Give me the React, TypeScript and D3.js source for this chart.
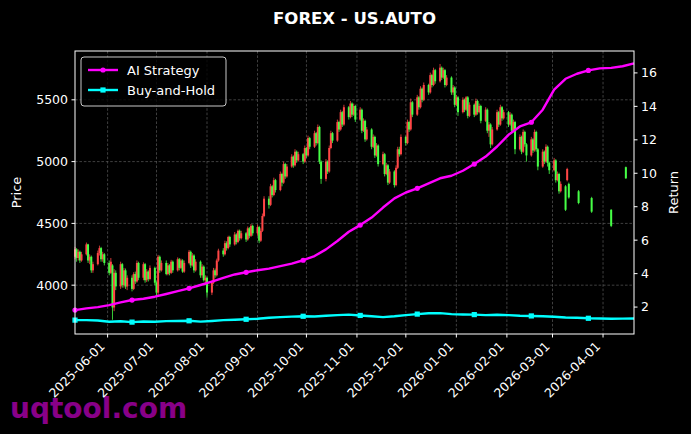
import React, { useEffect } from 'react';
import * as d3 from 'd3';

const W = 691;
const H = 434;
const PL = 75, PR = 634, PT = 51, PB = 334;

const titleText = 'FOREX - US.AUTO';
const watermark = 'uqtool.com';

// Daily candles (weekdays from firstTradingDay)
const firstTradingDay = '2025-05-12';
const opens = [
  4230,4290,4220,4270,4200, 4250,4330,4200,4230,4120, 4170,4260,4300,4210,4250, 4180,4100,4160,3820,4100,
  3990,4170,4000,4120,3990, 4060,3970,4090,4030,4180, 4060,4170,4040,4110,4050, 4140,4020,3940,4230,4120,
  4180,4090,4160,4100,4190, 4120,4210,4140,4200,4110, 4180,4270,4160,4240,4120, 4190,4080,4150,4040,4060,
  3940,4020,4120,4080,4200, 4280,4250,4340,4300,4390, 4330,4410,4350,4440,4380, 4420,4370,4460,4400,4480,
  4420,4470,4360,4440,4560, 4700,4650,4800,4730,4850, 4770,4900,4830,4980,4880, 4960,5040,4970,5080,5010,
  5060,5000,5110,5050,5190, 5120,5230,5150,5280,5000, 4860,5000,4920,5110,5230, 5170,5320,5260,5400,5300,
  5440,5360,5470,5380,5450, 5340,5420,5250,5330,5180, 5260,5120,5200,5050,5130, 4980,5060,4900,4970,4830,
  4920,4810,4950,5100,5060, 5200,5150,5320,5260,5480, 5380,5520,5440,5590,5500, 5620,5560,5700,5620,5740,
  5650,5760,5680,5740,5620, 5680,5560,5600,5460,5520, 5400,5500,5420,5520,5370, 5460,5380,5490,5400,5450,
  5330,5420,5250,5300,5140, 5260,5400,5300,5440,5350, 5400,5300,5380,5250,5320, 5100,5200,5080,5240,5140,
  5050,5180,5090,5240,5100, 4960,5080,5000,5120,4990, 4930,5010,4850,4900,4760,
];
const closes = [
  4290,4220,4270,4200,4250, 4330,4200,4230,4120,4170, 4260,4300,4210,4250,4180, 4100,4190,3820,4100,3990,
  4170,4000,4120,3990,4060, 3970,4090,4030,4180,4060, 4170,4040,4110,4050,4140, 4020,3940,4230,4120,4180,
  4090,4160,4100,4190,4120, 4210,4140,4200,4110,4180, 4270,4160,4240,4120,4190, 4080,4150,4040,4060,3940,
  4020,4120,4080,4200,4280, 4250,4340,4300,4390,4330, 4410,4350,4440,4380,4420, 4370,4460,4400,4480,4420,
  4470,4360,4440,4560,4700, 4650,4800,4730,4850,4770, 4900,4830,4980,4880,4960, 5040,4970,5080,5010,5060,
  5000,5110,5050,5190,5120, 5230,5150,5280,5000,4860, 5000,4920,5110,5230,5170, 5320,5260,5400,5300,5440,
  5360,5470,5380,5450,5340, 5420,5250,5330,5180,5260, 5120,5200,5050,5130,4980, 5060,4900,4970,4830,4920,
  4810,4950,5100,5060,5200, 5150,5320,5260,5480,5380, 5520,5440,5590,5500,5620, 5560,5700,5620,5740,5650,
  5760,5680,5740,5620,5680, 5560,5600,5460,5520,5400, 5500,5420,5520,5370,5460, 5380,5490,5400,5450,5330,
  5420,5250,5300,5140,5260, 5400,5300,5440,5350,5400, 5300,5380,5250,5320,5100, 5200,5080,5240,5140,5050,
  5180,5090,5240,5100,4960, 5080,5000,5120,4990,4930, 5010,4850,4900,4760,4820,
];
const highs = [
  4310,4300,4290,4280,4270, 4345,4335,4250,4240,4190, 4280,4320,4310,4270,4260, 4200,4220,4170,4130,4120,
  4190,4180,4140,4135,4080, 4080,4105,4110,4200,4190, 4185,4180,4130,4120,4160, 4150,4030,4245,4240,4200,
  4200,4180,4170,4205,4200, 4225,4220,4215,4210,4200, 4285,4280,4260,4250,4210, 4200,4170,4160,4080,4070,
  4040,4140,4135,4215,4295, 4300,4360,4355,4400,4400, 4430,4420,4450,4450,4440, 4430,4475,4470,4495,4490,
  4490,4480,4460,4580,4720, 4720,4820,4810,4870,4860, 4920,4910,5000,4990,4980, 5060,5050,5100,5090,5080,
  5070,5130,5120,5210,5200, 5250,5240,5300,5290,5010, 5020,5010,5130,5250,5240, 5340,5330,5420,5410,5460,
  5450,5490,5480,5470,5460, 5440,5430,5350,5340,5280, 5270,5220,5210,5150,5140, 5080,5070,4990,4980,4940,
  4930,4970,5120,5120,5220, 5210,5340,5330,5510,5490, 5540,5530,5610,5600,5640, 5630,5720,5710,5760,5750,
  5790,5770,5760,5750,5700, 5690,5620,5610,5540,5530, 5520,5510,5530,5530,5480, 5470,5510,5500,5470,5460,
  5440,5430,5320,5310,5280, 5420,5410,5460,5450,5420, 5410,5400,5390,5340,5330, 5220,5210,5260,5250,5150,
  5200,5190,5260,5250,5110, 5100,5090,5140,5130,5000, 5030,5020,4920,4910,4840,
];
const lows = [
  4210,4190,4200,4180,4190, 4240,4180,4170,4100,4100, 4160,4240,4190,4190,4160, 4080,4090,3720,3790,3960,
  3970,3980,3980,3970,3960, 3950,3960,4010,4020,4040, 4040,4020,4025,4030,4040, 4000,3900,3920,4100,4110,
  4080,4080,4080,4090,4100, 4110,4120,4130,4100,4100, 4170,4140,4150,4100,4110, 4060,4060,4030,4000,3900,
  3920,4010,4060,4070,4190, 4230,4240,4280,4290,4310, 4320,4330,4340,4360,4370, 4350,4360,4380,4390,4400,
  4400,4340,4350,4430,4550, 4620,4640,4710,4720,4750, 4760,4800,4820,4860,4870, 4950,4950,4960,4990,5000,
  4980,4990,5030,5040,5100, 5110,5130,5140,4980,4820, 4840,4900,4910,5100,5150, 5160,5240,5250,5280,5290,
  5340,5350,5360,5370,5320, 5330,5230,5240,5160,5170, 5100,5110,5030,5040,4960, 4970,4880,4890,4810,4820,
  4790,4800,4940,5040,5050, 5130,5140,5240,5250,5360, 5370,5420,5430,5480,5490, 5540,5550,5600,5610,5630,
  5640,5660,5670,5600,5610, 5540,5540,5440,5450,5370, 5390,5400,5410,5350,5360, 5360,5370,5380,5390,5310,
  5320,5230,5200,5110,5130, 5250,5280,5290,5330,5340, 5280,5290,5230,5240,5060, 5090,5060,5070,5120,5000,
  5040,5070,5080,5080,4930, 4950,4980,4990,4960,4900, 4920,4830,4840,4740,4750,
];

// Sparse candles at the end
const extraDates = ['2026-03-09','2026-03-10','2026-03-11','2026-03-17','2026-03-25','2026-04-06','2026-04-15'];
const extraOpens = [4800,4850,4820,4760,4705,4610,4955];
const extraCloses = [4610,4940,4710,4665,4595,4480,4865];
const extraHighs = [4810,4950,4830,4770,4715,4615,4960];
const extraLows = [4600,4840,4700,4655,4585,4470,4860];

// Weekly return curves (from lineStart, one value per week)
const lineStart = '2025-05-12';
const aiStrategy = [
  1.82,1.92,2.0,2.12,2.28,2.42,2.5,2.62,2.78,2.95,
  3.12,3.32,3.52,3.75,3.95,4.08,4.2,4.3,4.45,4.6,
  4.8,5.05,5.45,5.95,6.5,6.9,7.35,7.95,8.5,8.85,
  9.1,9.4,9.7,9.85,10.15,10.55,11.0,11.6,12.3,12.8,
  13.05,13.8,15.0,15.65,15.95,16.15,16.27,16.3,16.4,16.57,
];
const buyHold = [
  1.22,1.22,1.2,1.12,1.15,1.1,1.14,1.12,1.16,1.17,
  1.18,1.13,1.17,1.22,1.24,1.27,1.3,1.36,1.4,1.43,
  1.45,1.44,1.48,1.52,1.55,1.5,1.45,1.4,1.45,1.52,
  1.58,1.63,1.64,1.58,1.56,1.55,1.52,1.54,1.52,1.48,
  1.47,1.45,1.42,1.38,1.36,1.33,1.32,1.3,1.31,1.32,
];

const xStart = '2025-05-12';
const xEnd = '2026-04-20';
const xTicks = ['2025-06-01','2025-07-01','2025-08-01','2025-09-01','2025-10-01','2025-11-01','2025-12-01','2026-01-01','2026-02-01','2026-03-01','2026-04-01'];
const priceTicks = [4000, 4500, 5000, 5500];
const returnTicks = [2, 4, 6, 8, 10, 12, 14, 16];
const priceDomain = [3605, 5895];
const returnDomain = [0.39, 17.31];

const seriesNames = ['AI Strategy', 'Buy-and-Hold'];
const seriesColors = ['#ff00ff', '#00ffff'];
const upColor = '#ff4646';
const downColor = '#46ff46';

const FONT = 'DejaVu Sans, sans-serif';

function parse(s: string) {
  const [y, m, d] = s.split('-').map(Number);
  return new Date(y, m - 1, d);
}

export default function App() {
  useEffect(() => {
    document.body.style.margin = '0';
    document.body.style.background = '#000';
  }, []);

  const x = d3.scaleTime().domain([parse(xStart), parse(xEnd)]).range([PL, PR]);
  const yP = d3.scaleLinear().domain(priceDomain).range([PB, PT]);
  const yR = d3.scaleLinear().domain(returnDomain).range([PB, PT]);

  // trading dates
  const tradeDates: Date[] = [];
  let d = parse(firstTradingDay);
  while (tradeDates.length < opens.length) {
    const wd = d.getDay();
    if (wd !== 0 && wd !== 6) tradeDates.push(d);
    d = d3.timeDay.offset(d, 1);
  }
  const candles = opens.map((o, i) => ({ date: tradeDates[i], o, c: closes[i], h: highs[i], l: lows[i] }))
    .concat(extraDates.map((s, i) => ({ date: parse(s), o: extraOpens[i], c: extraCloses[i], h: extraHighs[i], l: extraLows[i] })));

  const ls = parse(lineStart);
  const lineDates = aiStrategy.map((_, i) => d3.timeDay.offset(ls, 7 * i));
  const series = [aiStrategy, buyHold];
  const lineGen = d3.line<number>().x((_, i) => x(lineDates[i])).y((v) => yR(v));

  return (
    <svg width={W} height={H} style={{ position: 'absolute', left: 0, top: 0, background: '#000', display: 'block' }} fontFamily={FONT}>
      <rect x={0} y={0} width={W} height={H} fill="#000" />
      <text x={(PL + PR) / 2} y={24} textAnchor="middle" fill="#fff" fontSize={16.5} fontWeight="bold">{titleText}</text>

      {/* grid */}
      <g stroke="#5a5a5a" strokeWidth={0.7} strokeDasharray="2.6,1.8">
        {xTicks.map((t) => (
          <line key={t} x1={x(parse(t))} x2={x(parse(t))} y1={PT} y2={PB} />
        ))}
        {priceTicks.map((t) => (
          <line key={t} x1={PL} x2={PR} y1={yP(t)} y2={yP(t)} />
        ))}
      </g>

      {/* candles */}
      <g>
        {candles.map((k, i) => {
          const cx = x(k.date);
          const col = k.c >= k.o ? upColor : downColor;
          const top = yP(Math.max(k.o, k.c));
          const bot = yP(Math.min(k.o, k.c));
          return (
            <g key={i}>
              <line x1={cx} x2={cx} y1={yP(k.h)} y2={yP(k.l)} stroke={col} strokeWidth={0.8} />
              <rect x={cx - 1} y={top} width={2} height={Math.max(1, bot - top)} fill={col} />
            </g>
          );
        })}
      </g>

      {/* return lines */}
      {series.map((s, si) => (
        <g key={si}>
          <path d={lineGen(s) || ''} fill="none" stroke={seriesColors[si]} strokeWidth={2.4} strokeLinejoin="round" />
          {s.map((v, i) => (i % 5 === 0 ? (
            si === 0 ? (
              <circle key={i} cx={x(lineDates[i])} cy={yR(v)} r={2.6} fill={seriesColors[si]} />
            ) : (
              <rect key={i} x={x(lineDates[i]) - 2.6} y={yR(v) - 2.6} width={5.2} height={5.2} fill={seriesColors[si]} />
            )
          ) : null))}
        </g>
      ))}

      {/* frame */}
      <rect x={PL} y={PT} width={PR - PL} height={PB - PT} fill="none" stroke="#fff" strokeWidth={1} />

      {/* watermark */}
      <text x={10} y={418} fill="#880088" fontSize={28} fontWeight="bold">{watermark}</text>

      {/* left axis */}
      <g fill="#fff" fontSize={12.5}>
        {priceTicks.map((t) => (
          <g key={t}>
            <line x1={PL - 3.5} x2={PL} y1={yP(t)} y2={yP(t)} stroke="#fff" />
            <text x={PL - 7} y={yP(t)} dy="0.35em" textAnchor="end">{t}</text>
          </g>
        ))}
        <text transform={`translate(21,${(PT + PB) / 2}) rotate(-90)`} textAnchor="middle" fontSize={13}>Price</text>
      </g>

      {/* right axis */}
      <g fill="#fff" fontSize={12.5}>
        {returnTicks.map((t) => (
          <g key={t}>
            <line x1={PR} x2={PR + 3.5} y1={yR(t)} y2={yR(t)} stroke="#fff" />
            <text x={PR + 7} y={yR(t)} dy="0.35em" textAnchor="start">{t}</text>
          </g>
        ))}
        <text transform={`translate(678,${(PT + PB) / 2}) rotate(-90)`} textAnchor="middle" fontSize={13}>Return</text>
      </g>

      {/* x axis */}
      <g fill="#fff" fontSize={12.5}>
        {xTicks.map((t) => {
          const tx = x(parse(t));
          return (
            <g key={t}>
              <line x1={tx} x2={tx} y1={PB} y2={PB + 3.5} stroke="#fff" />
              <text transform={`translate(${tx - 2},${PB + 13}) rotate(-45)`} textAnchor="end">{t}</text>
            </g>
          );
        })}
      </g>

      {/* legend */}
      <g>
        <rect x={81} y={57} width={145} height={49} rx={3} fill="#000" fillOpacity={0.8} stroke="#c8c8c8" strokeWidth={1} />
        {seriesNames.map((n, i) => {
          const ly = 70 + i * 20;
          return (
            <g key={n}>
              <line x1={88} x2={118} y1={ly} y2={ly} stroke={seriesColors[i]} strokeWidth={2.4} />
              {i === 0 ? (
                <circle cx={103} cy={ly} r={2.6} fill={seriesColors[i]} />
              ) : (
                <rect x={100.4} y={ly - 2.6} width={5.2} height={5.2} fill={seriesColors[i]} />
              )}
              <text x={127} y={ly} dy="0.35em" fill="#fff" fontSize={13}>{n}</text>
            </g>
          );
        })}
      </g>
    </svg>
  );
}
